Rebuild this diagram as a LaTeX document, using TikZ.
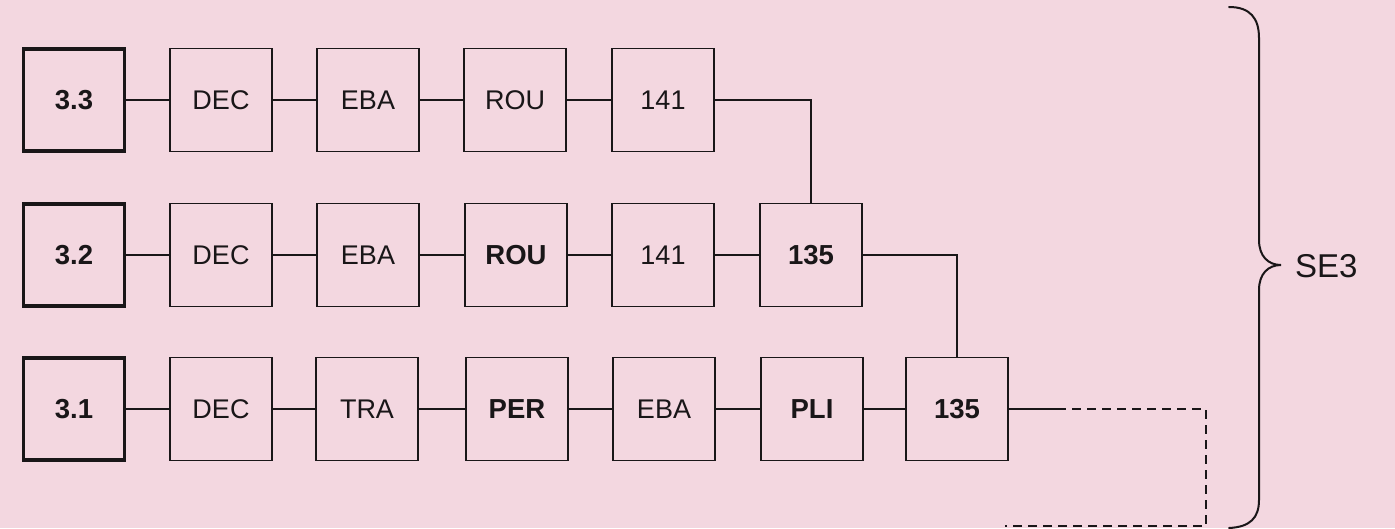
\documentclass[tikz,border=0pt]{standalone}
\usepackage{fontspec}
\setmainfont{Liberation Sans}
\definecolor{bgpink}{RGB}{243,215,224}
\definecolor{ink}{RGB}{25,22,24}
\begin{document}
\begin{tikzpicture}[x=1pt,y=-1pt,
  box/.style={draw=ink,line width=1.8pt,minimum width=102pt,minimum height=103pt,inner sep=0pt,
    font=\fontsize{27}{30}\selectfont,text=ink},
  strong/.style={box,font=\fontsize{27.5}{30}\selectfont\bfseries},
  startbox/.style={strong,line width=3.2pt,minimum width=101pt,minimum height=102pt},
  link/.style={draw=ink,line width=1.8pt},
  dlink/.style={draw=ink,line width=1.8pt,dash pattern=on 9pt off 6pt}]
\fill[bgpink] (0,0) rectangle (1395,528);
\useasboundingbox (0,0) rectangle (1395,528);
% row 1
\node[startbox] (a1) at (74,100) {3.3};
\node[box] (a2) at (221,100) {DEC};
\node[box] (a3) at (368,100) {EBA};
\node[box] (a4) at (515,100) {ROU};
\node[box] (a5) at (663,100) {141};
% row 2
\node[startbox] (b1) at (74,255) {3.2};
\node[box] (b2) at (221,255) {DEC};
\node[box] (b3) at (368,255) {EBA};
\node[strong] (b4) at (516,255) {ROU};
\node[box] (b5) at (663,255) {141};
\node[strong] (b6) at (811,255) {135};
% row 3
\node[startbox] (c1) at (74,409) {3.1};
\node[box] (c2) at (221,409) {DEC};
\node[box] (c3) at (367,409) {TRA};
\node[strong] (c4) at (517,409) {PER};
\node[box] (c5) at (664,409) {EBA};
\node[strong] (c6) at (812,409) {PLI};
\node[strong] (c7) at (957,409) {135};
% connectors
\draw[link] (a1) -- (a2);
\draw[link] (a2) -- (a3);
\draw[link] (a3) -- (a4);
\draw[link] (a4) -- (a5);
\draw[link] (b1) -- (b2);
\draw[link] (b2) -- (b3);
\draw[link] (b3) -- (b4);
\draw[link] (b4) -- (b5);
\draw[link] (b5) -- (b6);
\draw[link] (c1) -- (c2);
\draw[link] (c2) -- (c3);
\draw[link] (c3) -- (c4);
\draw[link] (c4) -- (c5);
\draw[link] (c5) -- (c6);
\draw[link] (c6) -- (c7);
\draw[link] (a5.east) -| (b6.north);
\draw[link] (b6.east) -| (c7.north);
\coordinate (d0) at (1057,409);
\coordinate (d1) at (1206,409);
\coordinate (d2) at (1206,526);
\coordinate (d3) at (1005,526);
\draw[link] (c7.east) -- (d0);
\draw[dlink] (d0) -- (d1) -- (d2) -- (d3);
% brace
\draw[ink,line width=2pt,line cap=round]
  (1229,7) .. controls (1250,7) and (1259,18) .. (1259,38)
  -- (1259,240) .. controls (1259,256) and (1268,265) .. (1281,265)
  .. controls (1268,265) and (1259,274) .. (1259,290)
  -- (1259,500) .. controls (1259,518) and (1250,527) .. (1229,528);
\node[anchor=west,text=ink,font=\fontsize{33}{36}\selectfont,inner sep=0pt] (se) at (1295,266) {SE3};
\end{tikzpicture}
\end{document}
